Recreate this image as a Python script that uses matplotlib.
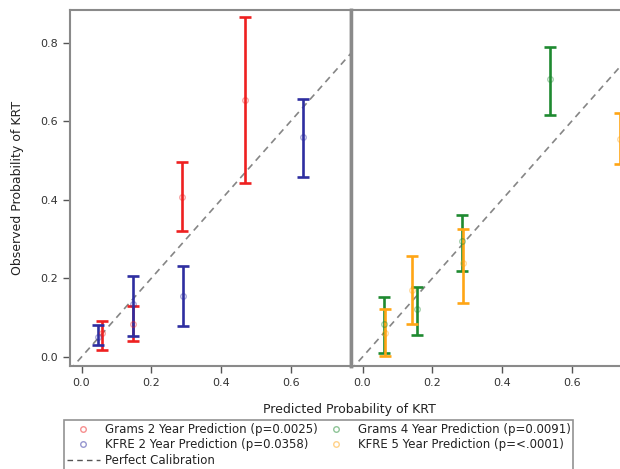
import numpy as np
import matplotlib
matplotlib.use('Agg')
import matplotlib.pyplot as plt
from matplotlib.lines import Line2D

plt.rcParams['font.family'] = ['DejaVu Sans']

# left panel: 2 year predictions
grams2_x = [0.058, 0.149, 0.287, 0.469]
grams2_y = [0.060, 0.085, 0.408, 0.654]
grams2_lo = [0.017, 0.041, 0.321, 0.443]
grams2_hi = [0.092, 0.130, 0.495, 0.866]

kfre2_x = [0.048, 0.149, 0.290, 0.636]
kfre2_y = [0.050, 0.136, 0.155, 0.560]
kfre2_lo = [0.030, 0.053, 0.079, 0.457]
kfre2_hi = [0.082, 0.205, 0.232, 0.657]

# right panel: 4/5 year predictions
grams4_x = [0.062, 0.156, 0.285, 0.537]
grams4_y = [0.085, 0.123, 0.296, 0.707]
grams4_lo = [0.010, 0.057, 0.218, 0.617]
grams4_hi = [0.153, 0.178, 0.361, 0.790]

kfre5_x = [0.065, 0.143, 0.289, 0.739]
kfre5_y = [0.060, 0.170, 0.238, 0.555]
kfre5_lo = [0.002, 0.085, 0.138, 0.490]
kfre5_hi = [0.123, 0.257, 0.325, 0.620]

labels = ['Grams 2 Year Prediction (p=0.0025)', 'KFRE 2 Year Prediction (p=0.0358)',
          'Grams 4 Year Prediction (p=0.0091)', 'KFRE 5 Year Prediction (p=<.0001)']
colors = ['#ee2020', '#2e2ea0', '#1e8a30', '#ffa515']
xticks = [0.0, 0.2, 0.4, 0.6]
yticks = [0.0, 0.2, 0.4, 0.6, 0.8]

fig = plt.figure(figsize=(6.2, 4.69), dpi=100)
W, H = 620, 469
ax1 = fig.add_axes([70 / W, 1 - 366 / H, 281 / W, 356 / H])
ax2 = fig.add_axes([351 / W, 1 - 366 / H, 281 / W, 356 / H])

def draw(ax, x, y, lo, hi, color):
    y = np.array(y)
    err = [y - np.array(lo), np.array(hi) - y]
    ax.errorbar(x, y, yerr=err, fmt='none', ecolor=color, elinewidth=1.9,
                capsize=4.5, capthick=1.9, zorder=3)
    ax.plot(x, y, 'o', mfc='none', mec=color, ms=4, alpha=0.4, zorder=4)

draw(ax1, grams2_x, grams2_y, grams2_lo, grams2_hi, colors[0])
draw(ax1, kfre2_x, kfre2_y, kfre2_lo, kfre2_hi, colors[1])
draw(ax2, grams4_x, grams4_y, grams4_lo, grams4_hi, colors[2])
draw(ax2, kfre5_x, kfre5_y, kfre5_lo, kfre5_hi, colors[3])

for ax in (ax1, ax2):
    ax.plot([-0.1, 1.0], [-0.1, 1.0], color='#858585', ls=(0, (4, 3)), lw=1.2, zorder=2)
    ax.set_xlim(-0.033, 0.773)
    ax.set_ylim(-0.023, 0.883)
    ax.set_xticks(xticks)
    ax.set_xticklabels(['%.1f' % t for t in xticks])
    ax.tick_params(axis='both', colors='#555555', labelcolor='#333333',
                   labelsize=8, length=5, width=1)
    for s in ax.spines.values():
        s.set_color('#8a8a8a')
        s.set_linewidth(1.5)

ax1.set_yticks(yticks)
ax1.set_yticklabels(['%.1f' % t for t in yticks])
ax1.spines['right'].set_linewidth(2.5)
ax2.spines['left'].set_linewidth(2.5)
ax2.set_yticks([])
ax1.set_ylabel('Observed Probability of KRT', fontsize=9, color='#222222', labelpad=12)

fig.text(349 / W, 1 - 409 / H, 'Predicted Probability of KRT', ha='center', va='center',
         fontsize=9, color='#222222')

handles = [
    Line2D([], [], ls='none', marker='o', mfc='none', mec=colors[0], ms=4, alpha=0.5),
    Line2D([], [], ls='none', marker='o', mfc='none', mec=colors[1], ms=4, alpha=0.5),
    Line2D([], [], color='#555555', ls=(0, (4, 3)), lw=1),
    Line2D([], [], ls='none', marker='o', mfc='none', mec=colors[2], ms=4, alpha=0.5),
    Line2D([], [], ls='none', marker='o', mfc='none', mec=colors[3], ms=4, alpha=0.5),
]
names = [labels[0], labels[1], 'Perfect Calibration', labels[2], labels[3]]
leg = fig.legend(handles, names, loc='upper left', bbox_to_anchor=(64 / W, 1 - 420 / H),
                 ncol=2, fontsize=8.5, frameon=True, fancybox=False, borderpad=0.25,
                 labelspacing=0.2, handlelength=2.8, handletextpad=0.4,
                 columnspacing=0.2, borderaxespad=0)
leg.get_frame().set_edgecolor('#777777')
leg.get_frame().set_linewidth(1.2)
for t in leg.get_texts():
    t.set_color('#222222')

fig.savefig('out.png', dpi=100)
